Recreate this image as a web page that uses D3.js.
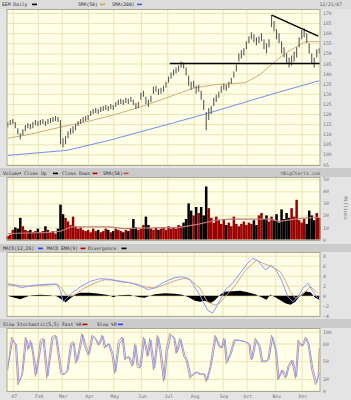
<!DOCTYPE html>
<html><head><meta charset="utf-8">
<script src="https://cdn.jsdelivr.net/npm/d3@7/dist/d3.min.js"></script>
<style>
html,body{margin:0;padding:0;background:#e2e2e2;}
svg{display:block;}
text{font-family:"DejaVu Sans Mono","Liberation Mono",monospace;}
</style></head><body>
<svg id="chart" width="351" height="400"></svg>
<script>
// ---------------- data ----------------
const dayStart = -4, dayStep = 2;   // trading-day index (0 = 2007-01-03), every 2nd session
const priceHi = [
 116,117,117.5,116,113,110.5,112.5,114.5,115.5,115,
 116,117,116.5,117,117.5,116.5,117.5,118,118.5,119,
 118.5,117,108,109,111.5,113,114,115,116.5,117.5,
 118.5,119,119.5,121.5,122.5,123,122.5,123.5,124,124.5,
 124,125,124.5,126,127,127.5,127,128,127.5,128.5,
 127,125.5,126,130.5,131.5,128.5,127,129,133.5,134,
 132.5,133,134,136,138.5,140.5,142,143,144,146,
 145.5,143,139,136,136.5,134,134.5,131.5,127,121,
 123,124,128,129.5,131,134,135,134.5,136,138,
 141,144.5,150,151.5,152.5,156,158.5,160.5,159.5,158,
 158.5,160,157,155,157,169,166,162,160,156,
 153,150,148,149,151,153,158,161.5,162.5,160,
 155,150,148,152,152.5];
const priceLo = [
 113.5,114.5,115,113,110,107.5,109.5,111.5,113,112.5,
 113,114.5,114,114.5,115,114,115,115.5,116,116.5,
 116,105,103.5,105,108,110,110.5,112,114,115,
 116,116.5,117,119,120,120.5,120,121,121.5,122,
 121.5,122.5,122,123.5,124.5,125,124.5,125.5,125,126,
 124.5,122.5,123,127,128.5,125,123.5,126,130,131,
 129.5,130,131,133,135.5,137.5,139,140,141,143,
 142.5,139,134,132,133,130,131,127,122,112,
 117,120,124,126,128,130.5,132,131.5,133,135,
 138,141,146,147.5,149,152,155,157,155.5,154,
 155,156,152,150,153,163,161,157,155,150,
 148,145,143,144,146,148,153,157,158,155,
 150,145,143,148,150];
const volume = [
 3,4,8,10,9,18,11,8,7,8,
 6,7,9,6,7,11,8,6,7,5,
 9,29,21,18,15,12,19,11,9,10,
 8,7,8,6,9,7,8,6,7,9,
 8,6,7,9,8,7,6,8,7,9,
 17,10,8,9,12,19,12,9,8,10,
 8,9,10,8,11,9,10,9,12,11,
 14,17,30,24,20,27,22,27,20,44,
 26,18,14,19,16,13,17,12,14,11,
 19,13,11,13,15,12,14,13,16,12,
 20,22,17,20,15,19,16,21,14,25,
 17,22,18,26,19,33,16,14,17,13,
 24,20,16,22,18];
const sma50Days = [-4,14,38,61,83,104,129,145,161,185,197,206,217,225,233,244];
const sma50Vals = [108,110,113.5,116.5,120,124,129.5,133,134.5,135.5,139.5,144.5,150,153,155.8,155.8];
const sma200Days = [-4,43,77,129,155,182,209,244];
const sma200Vals = [99.5,102,107,115.8,120.3,125.3,130.3,136.5];
const trendDownDays = [206.2,243.2], trendDownVals = [169,158.6];
const supportDays = [125,244.6], supportVals = [145,145];
const volSmaDays = [-4,30,38,42,46,77,89,101,133,149,161,173,205,212,229,244];
const volSmaVals = [5,6,7,8.5,10.5,10.5,9,9.5,10,13,16,17,17,15,17.5,18.5];
const macdDays = [-4,2,7,14,22,30,35,38,40,43,47,54,61,69,77,85,93,101,108,113,121,129,135,140,143,149,155,159,163,169,175,181,187,191,195,201,206,210,214,219,223,227,231,235,239,243];
const macdVals = [2.2,2.0,1.6,2.0,2.2,2.3,2.3,1.0,-1.2,-0.5,0.5,1.8,2.8,3.4,3.3,2.8,2.6,2.0,1.2,1.6,2.8,3.6,3.8,3.4,2.5,0.1,-2.9,-3.5,-1.9,1.1,2.5,4.5,6.5,7.5,7.0,5.2,6.1,5.0,3.1,-0.2,-1.2,-0.2,1.5,2.5,0.8,-0.5];
const signalDays = [-4,6,14,26,35,39,42,46,50,57,65,73,81,89,97,105,113,121,129,137,141,149,155,161,165,169,177,185,194,201,206,213,217,221,225,230,237,243];
const signalVals = [2.4,2.0,1.9,2.1,2.3,1.5,0.3,-0.1,0.3,1.5,2.5,3.2,3.1,2.8,2.4,1.8,1.5,2.2,3.0,3.5,3.2,1.5,-1.2,-1.9,-1.4,-0.2,2.0,5.0,7.1,6.3,5.8,4.8,3.0,0.8,-0.5,0.1,1.8,0.5];
const divDays = [-4,0,6,11,15,22,30,35,38,42,46,50,54,61,69,77,80,84,93,101,105,109,113,121,129,135,140,145,149,153,157,161,165,169,175,181,187,193,198,202,205,209,213,217,221,225,229,233,237,241,244];
const divVals = [0,-0.3,-0.7,-0.2,0.1,0.2,0.1,-0.1,-0.6,-1.3,-0.5,0.3,0.6,0.6,0.4,0.1,-0.3,0.1,0.2,-0.3,-0.4,0,0.3,0.5,0.4,0.2,-0.3,-1.0,-1.2,-1.0,-1.5,-0.9,0.2,0.8,0.9,1.0,0.7,0.3,-0.3,-0.8,0.2,-0.3,-0.9,-1.5,-1.8,-1.2,0.1,0.9,0.7,-0.4,-0.8];
const stochKDays = [-4,-1,2,4,7,10,12,14,16,18,22,24,27,31,34,38,40,43,46,48,50,51,55,57,60,63,65,68,71,73,76,79,81,84,87,89,92,95,97,99,101,104,107,109,112,115,117,120,122,125,128,130,133,136,138,141,144,146,149,152,154,157,161,164,166,168,170,173,176,178,184,188,189,190,193,196,198,201,203,206,209,211,214,217,219,222,225,227,230,233,235,238,241,243,244];
const stochKVals = [35,91,80,10,24,91,69,86,60,24,86,89,21,91,94,29,27,32,80,83,46,52,97,77,60,94,91,77,94,72,80,60,29,83,91,52,58,41,80,41,38,91,58,89,35,94,69,15,69,97,91,63,89,58,52,21,29,32,27,29,15,41,94,75,72,89,46,63,86,86,84,80,58,52,89,75,49,49,52,94,69,18,35,21,41,52,21,86,75,91,80,35,10,21,72];
const stochDDays = [-4,0,3,5,8,11,13,15,17,19,23,25,28,32,35,39,41,44,47,49,51,52,56,58,61,64,66,69,72,74,77,80,82,85,88,90,93,96,98,100,102,105,108,110,113,116,118,121,123,126,129,131,134,137,139,142,145,147,150,153,155,158,162,165,167,169,171,174,177,179,185,189,190,191,194,197,199,202,204,207,210,212,215,218,220,223,226,228,231,234,236,239,242,244];
const stochDVals = [40,85,78,15,30,88,72,82,58,28,82,88,25,88,92,32,28,34,78,80,50,54,94,78,62,92,89,78,92,74,79,62,32,80,89,55,57,44,77,44,40,88,60,86,38,91,70,19,66,94,89,65,86,60,52,24,29,31,28,28,18,42,91,75,73,87,49,63,85,86,83,78,60,54,86,75,51,50,53,91,68,21,35,24,41,51,24,83,76,89,78,37,13,30];
const monthDays = [0,20,39,60,80,102,123,144,167,186,209,230];
const monthLabels = ["07","Feb","Mar","Apr","May","Jun","Jul","Aug","Sep","Oct","Nov","Dec"];
const priceTicks = [95,100,105,110,115,120,125,130,135,140,145,150,155,160,165,170];
const volTicks = [0,10,20,30,40,50];
const macdTicks = [-4,-2,0,2,4,6,8];
const stochTicks = [0,20,50,80,100];

// ---------------- drawing ----------------
const svg = d3.select("#chart");
const X0 = 7, X1 = 320;
const PLOT = "#fffee6", GRID = "#e9e5b4", LBL = "#777";
const x = d3.scaleLinear().domain([-4.6, 244.6]).range([X0, X1]);
const days = priceHi.map((_, k) => dayStart + k * dayStep);
const zip = (ds, vs) => ds.map((d, k) => [d, vs[k]]);

// background bands
svg.append("rect").attr("width",351).attr("height",400).attr("fill","#e4e4e4");
svg.append("rect").attr("x",0).attr("y",0).attr("width",351).attr("height",9).attr("fill","#dcdcdc");
[[168,177],[244,252],[319,328]].forEach(b=>{
  svg.append("rect").attr("x",0).attr("y",b[0]).attr("width",351).attr("height",b[1]-b[0]).attr("fill","#cbcbcb");
});

function panel(top, bottom, y, ticks) {
  svg.append("rect").attr("x",X0).attr("y",top).attr("width",X1-X0).attr("height",bottom-top).attr("fill",PLOT);
  const gh = svg.append("g").attr("transform",`translate(${X0},0)`)
    .call(d3.axisLeft(y).tickValues(ticks).tickSize(-(X1-X0)).tickFormat(""));
  gh.select(".domain").remove();
  gh.selectAll("line").attr("stroke",GRID).attr("stroke-width",1);
  const gv = svg.append("g").attr("transform",`translate(0,${bottom})`)
    .call(d3.axisBottom(x).tickValues(monthDays).tickSize(-(bottom-top)).tickFormat(""));
  gv.select(".domain").remove();
  gv.selectAll("line").attr("stroke",GRID).attr("stroke-width",1);
  const ga = svg.append("g").attr("transform",`translate(${X1},0)`)
    .call(d3.axisRight(y).tickValues(ticks).tickSize(0).tickPadding(3));
  ga.select(".domain").remove();
  ga.selectAll("text").attr("fill",LBL).attr("font-size",4.8).attr("font-family","DejaVu Sans Mono");
}
function frame(top,bottom){
  svg.append("rect").attr("x",X0).attr("y",top).attr("width",X1-X0).attr("height",bottom-top)
    .attr("fill","none").attr("stroke","#a9a98f").attr("stroke-width",1);
}
function line(data, y, color, w) {
  svg.append("path").datum(data).attr("fill","none").attr("stroke",color).attr("stroke-width",w||1)
    .attr("stroke-linejoin","round")
    .attr("d", d3.line().x(d=>x(d[0])).y(d=>y(d[1])));
}

// ---- price panel ----
const yP = d3.scaleLinear().domain([95,170]).range([164.5,13]);
panel(9.5,165.5,yP,priceTicks);
line(zip(sma200Days,sma200Vals), yP, "#7090ee", 1);
line(zip(sma50Days,sma50Vals), yP, "#d2ac78", 1);
svg.append("g").selectAll("line").data(days).join("line")
  .attr("x1",d=>x(d)).attr("x2",d=>x(d))
  .attr("y1",(d,k)=>yP(priceHi[k])).attr("y2",(d,k)=>yP(priceLo[k]))
  .attr("stroke","#5a5a5a").attr("stroke-width",1.1);
line(zip(supportDays,supportVals), yP, "#000", 1.4);
line(zip(trendDownDays,trendDownVals), yP, "#000", 1.4);
frame(9.5,165.5);

// ---- volume panel ----
const yV = d3.scaleLinear().domain([0,50]).range([239.5,179.3]);
panel(177.5,240.5,yV,volTicks);
const mid = days.map((d,k)=>(priceHi[k]+priceLo[k])/2);
svg.append("g").selectAll("rect").data(days).join("rect")
  .attr("x",d=>x(d)-1.25).attr("width",2.5)
  .attr("y",(d,k)=>yV(volume[k])).attr("height",(d,k)=>yV(0)-yV(volume[k]))
  .attr("fill",(d,k)=> (k===0 || mid[k]>=mid[k-1]) ? "#9a0000" : "#000");
line(zip(volSmaDays,volSmaVals), yV, "#c07a7a", 1.2);
frame(177.5,240.5);

// ---- MACD panel ----
const yM = d3.scaleLinear().domain([-4,8]).range([315.7,255.7]);
panel(252.5,316.5,yM,macdTicks);
svg.append("path").datum(zip(divDays,divVals)).attr("fill","#000")
  .attr("d", d3.area().x(d=>x(d[0])).y0(yM(0)).y1(d=>yM(d[1])));
line(zip(signalDays,signalVals), yM, "#d4a48c", 1);
line(zip(macdDays,macdVals), yM, "#8898ff", 1);
frame(252.5,316.5);

// ---- stochastic panel ----
const yS = d3.scaleLinear().domain([0,100]).range([390.7,331.7]);
panel(328.5,391.5,yS,stochTicks);
line(zip(stochKDays,stochKVals), yS, "#c99a8a", 1);
line(zip(stochDDays,stochDVals), yS, "#8c9cff", 1);
frame(328.5,391.5);

// x labels
svg.append("g").attr("transform",`translate(1,392)`)
  .call(d3.axisBottom(x).tickValues(monthDays).tickSize(0).tickPadding(3).tickFormat((d,i)=>monthLabels[i]))
  .call(g=>g.select(".domain").remove())
  .selectAll("text").attr("fill",LBL).attr("font-size",4.8).attr("font-family","DejaVu Sans Mono");

// header texts
function txt(s,xx,yy,opt){
  const t=svg.append("text").attr("x",xx).attr("y",yy).attr("font-size",4.7).attr("fill",(opt&&opt.fill)||"#333").text(s);
  if(opt&&opt.anchor) t.attr("text-anchor",opt.anchor);
  return t;
}
function sw(xx,yy,c){ svg.append("rect").attr("x",xx).attr("y",yy-2.4).attr("width",5).attr("height",1.6).attr("fill",c); }
txt("EEM Daily",2,6); sw(32,6,"#000");
txt("SMA(50)",78,6); sw(100,6,"#e0a040");
txt("SMA(200)",112,6); sw(137,6,"#4060e0");
txt("12/21/07",342,6,{anchor:"end",fill:"#666"});

txt("Volume",3,175); svg.append("circle").attr("cx",20.5).attr("cy",173.2).attr("r",0.7).attr("fill","#333");
txt("Close Up",24,175); sw(53,175,"#000");
txt("Close Down",62,175); sw(92.5,175,"#c00000");
txt("SMA(50)",103,175); sw(123.5,175,"#c05050");
txt("\u00A9BigCharts.com",320,175,{anchor:"end",fill:"#555"});

txt("MACD(12,26)",3,250); sw(38,250,"#2040ff");
txt("MACD EMA(9)",47,250); sw(80.5,250,"#c00000");
txt("Divergence",88,250); sw(121.5,250,"#000");

txt("Slow Stochastic(5,5)",3,326); txt("Fast %K",62,326); sw(82.5,326,"#c00000");
txt("Slow %D",97,326); sw(118,326,"#2040ff");

svg.append("text").attr("transform","translate(344,208) rotate(90)").attr("text-anchor","middle")
  .attr("font-size",4.8).attr("fill","#777").text("Millions");
</script>
</body></html>
